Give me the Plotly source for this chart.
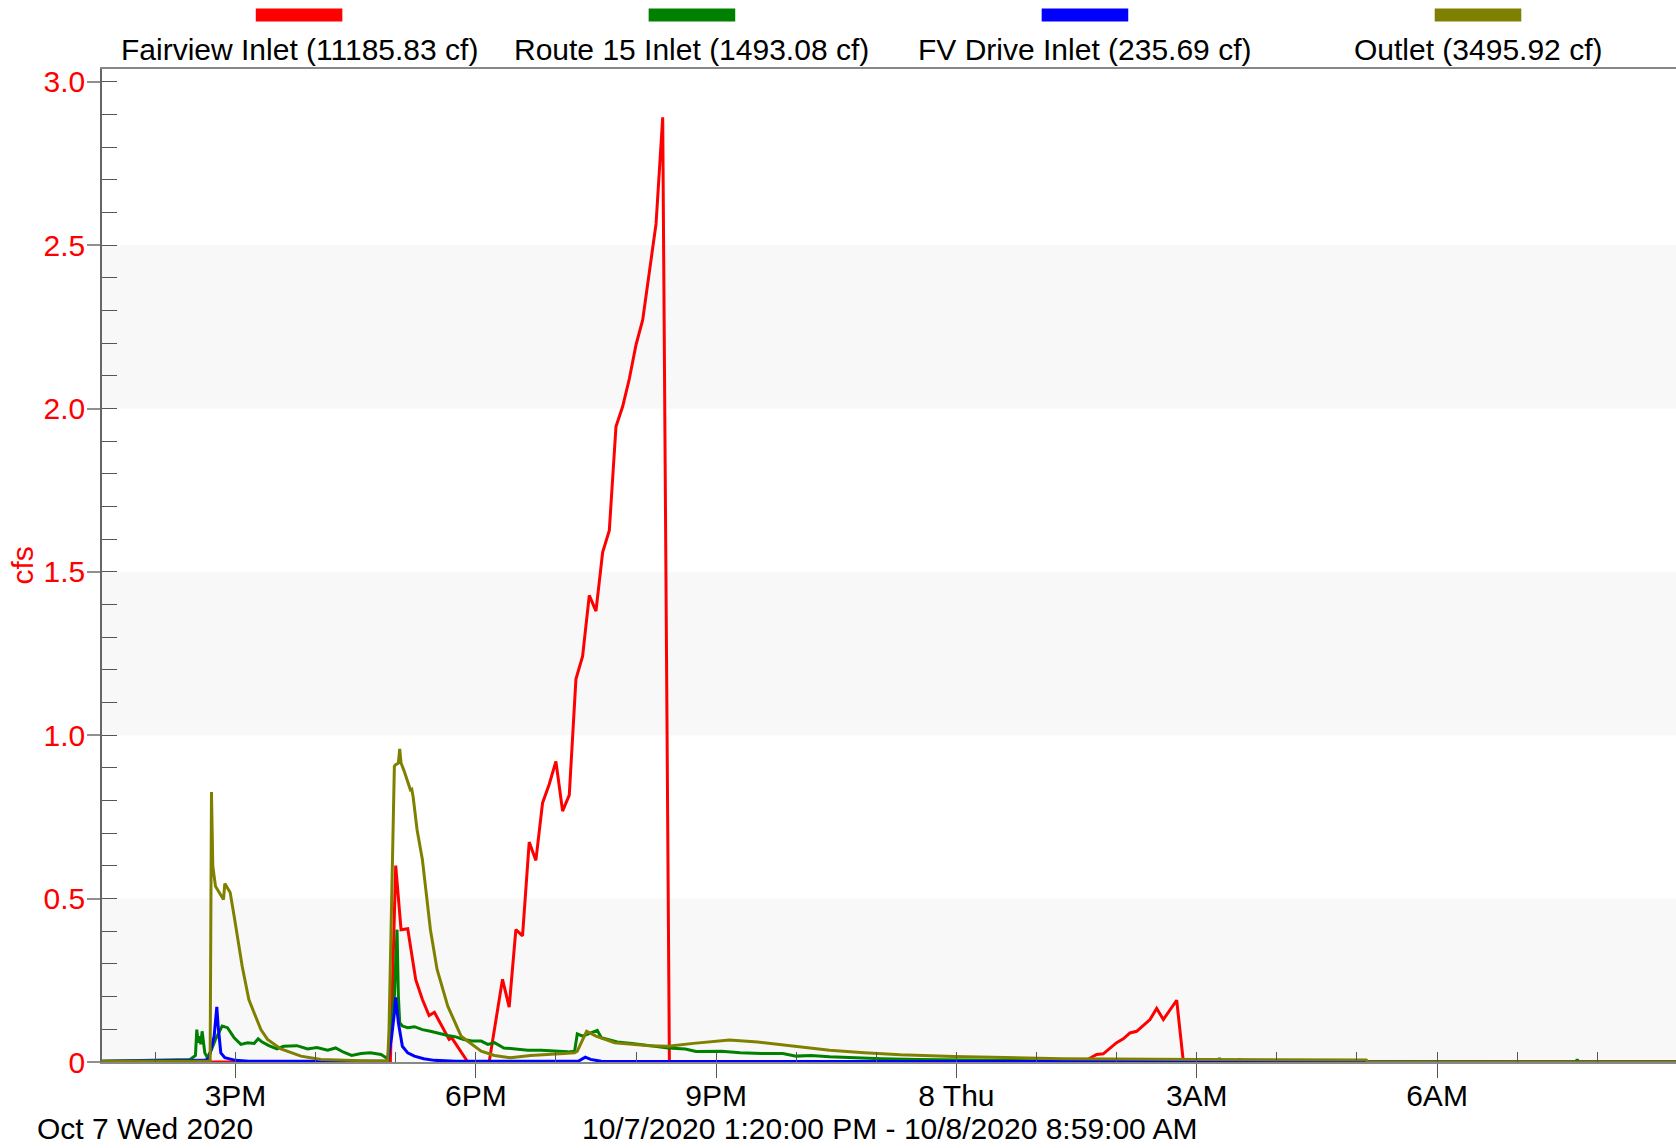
import pandas as pd
import plotly.graph_objects as go

# ---------------- data ----------------
fairview_times = [
    "2020-10-07 13:20", "2020-10-07 16:56", "2020-10-07 17:00", "2020-10-07 17:04",
    "2020-10-07 17:09", "2020-10-07 17:15", "2020-10-07 17:20", "2020-10-07 17:25",
    "2020-10-07 17:29", "2020-10-07 17:40", "2020-10-07 17:42", "2020-10-07 17:54",
    "2020-10-07 18:10", "2020-10-07 18:20", "2020-10-07 18:25", "2020-10-07 18:30",
    "2020-10-07 18:35", "2020-10-07 18:40", "2020-10-07 18:45", "2020-10-07 18:50",
    "2020-10-07 18:55", "2020-10-07 19:00", "2020-10-07 19:05", "2020-10-07 19:10",
    "2020-10-07 19:15", "2020-10-07 19:20", "2020-10-07 19:25", "2020-10-07 19:30",
    "2020-10-07 19:35", "2020-10-07 19:40", "2020-10-07 19:45", "2020-10-07 19:50",
    "2020-10-07 19:55", "2020-10-07 20:00", "2020-10-07 20:05", "2020-10-07 20:10",
    "2020-10-07 20:15", "2020-10-07 20:20", "2020-10-07 20:25", "2020-10-08 01:35",
    "2020-10-08 01:45", "2020-10-08 01:50", "2020-10-08 02:00", "2020-10-08 02:05",
    "2020-10-08 02:10", "2020-10-08 02:15", "2020-10-08 02:25", "2020-10-08 02:30",
    "2020-10-08 02:35", "2020-10-08 02:45", "2020-10-08 02:50", "2020-10-08 08:59",
]
fairview_cfs = [
    0, 0, 0.601, 0.405,
    0.408, 0.252, 0.191, 0.142,
    0.152, 0.069, 0.074, 0,
    0, 0.253, 0.168, 0.405,
    0.386, 0.673, 0.617, 0.793,
    0.850, 0.920, 0.768, 0.817,
    1.172, 1.242, 1.428, 1.380,
    1.560, 1.627, 1.945, 2.006,
    2.091, 2.195, 2.271, 2.413,
    2.565, 2.891, 0, 0,
    0.023, 0.025, 0.059, 0.071,
    0.089, 0.094, 0.130, 0.164,
    0.130, 0.189, 0, 0,
]

route15_times = [
    "2020-10-07 13:20", "2020-10-07 14:26", "2020-10-07 14:30", "2020-10-07 14:31",
    "2020-10-07 14:32", "2020-10-07 14:33", "2020-10-07 14:34", "2020-10-07 14:35",
    "2020-10-07 14:37", "2020-10-07 14:39", "2020-10-07 14:42", "2020-10-07 14:45",
    "2020-10-07 14:50", "2020-10-07 14:54", "2020-10-07 14:59", "2020-10-07 15:04",
    "2020-10-07 15:09", "2020-10-07 15:14", "2020-10-07 15:17", "2020-10-07 15:20",
    "2020-10-07 15:25", "2020-10-07 15:31", "2020-10-07 15:36", "2020-10-07 15:46",
    "2020-10-07 15:54", "2020-10-07 16:01", "2020-10-07 16:09", "2020-10-07 16:15",
    "2020-10-07 16:21", "2020-10-07 16:27", "2020-10-07 16:34", "2020-10-07 16:41",
    "2020-10-07 16:49", "2020-10-07 16:52", "2020-10-07 16:54", "2020-10-07 16:59",
    "2020-10-07 17:00", "2020-10-07 17:01", "2020-10-07 17:02", "2020-10-07 17:03",
    "2020-10-07 17:05", "2020-10-07 17:09", "2020-10-07 17:14", "2020-10-07 17:20",
    "2020-10-07 17:26", "2020-10-07 17:32", "2020-10-07 17:39", "2020-10-07 17:45",
    "2020-10-07 17:51", "2020-10-07 17:57", "2020-10-07 18:04", "2020-10-07 18:09",
    "2020-10-07 18:14", "2020-10-07 18:21", "2020-10-07 18:29", "2020-10-07 18:39",
    "2020-10-07 18:49", "2020-10-07 18:59", "2020-10-07 19:09", "2020-10-07 19:14",
    "2020-10-07 19:16", "2020-10-07 19:20", "2020-10-07 19:25", "2020-10-07 19:31",
    "2020-10-07 19:34", "2020-10-07 19:41", "2020-10-07 19:46", "2020-10-07 19:57",
    "2020-10-07 20:10", "2020-10-07 20:24", "2020-10-07 20:37", "2020-10-07 20:45",
    "2020-10-07 21:04", "2020-10-07 21:18", "2020-10-07 21:34", "2020-10-07 21:50",
    "2020-10-07 22:00", "2020-10-07 22:11", "2020-10-07 22:25", "2020-10-07 22:43",
    "2020-10-07 23:04", "2020-10-07 23:31", "2020-10-08 00:25", "2020-10-08 01:56",
    "2020-10-08 03:16", "2020-10-08 03:17", "2020-10-08 03:18", "2020-10-08 03:31",
    "2020-10-08 03:32", "2020-10-08 03:33", "2020-10-08 07:44", "2020-10-08 07:45",
    "2020-10-08 07:46", "2020-10-08 08:59",
]
route15_cfs = [
    0.002, 0.008, 0.020, 0.099,
    0.059, 0.079, 0.054, 0.094,
    0.028, 0.013, 0.038, 0.069,
    0.110, 0.105, 0.074, 0.054,
    0.059, 0.057, 0.071, 0.061,
    0.050, 0.040, 0.048, 0.050,
    0.040, 0.044, 0.036, 0.043,
    0.030, 0.020, 0.026, 0.028,
    0.023, 0.015, 0.010, 0.201,
    0.303, 0.405, 0.201, 0.120,
    0.110, 0.105, 0.108, 0.099,
    0.094, 0.087, 0.081, 0.077,
    0.069, 0.064, 0.064, 0.054,
    0.059, 0.043, 0.040, 0.036,
    0.036, 0.033, 0.031, 0.033,
    0.086, 0.079, 0.087, 0.097,
    0.074, 0.067, 0.061, 0.057,
    0.050, 0.043, 0.040, 0.032,
    0.033, 0.028, 0.026, 0.026,
    0.018, 0.020, 0.016, 0.013,
    0.010, 0.008, 0.005, 0.002,
    0, 0.012, 0, 0,
    0.010, 0, 0, 0.008,
    0, 0,
]

fvdrive_times = [
    "2020-10-07 13:20", "2020-10-07 14:37", "2020-10-07 14:40", "2020-10-07 14:44",
    "2020-10-07 14:46", "2020-10-07 14:47", "2020-10-07 14:49", "2020-10-07 14:52",
    "2020-10-07 15:00", "2020-10-07 15:10", "2020-10-07 16:54", "2020-10-07 16:57",
    "2020-10-07 16:59", "2020-10-07 17:00", "2020-10-07 17:02", "2020-10-07 17:05",
    "2020-10-07 17:09", "2020-10-07 17:14", "2020-10-07 17:21", "2020-10-07 17:29",
    "2020-10-07 17:45", "2020-10-07 19:17", "2020-10-07 19:22", "2020-10-07 19:26",
    "2020-10-07 19:34", "2020-10-08 02:30", "2020-10-08 02:40", "2020-10-08 08:59",
]
fvdrive_cfs = [
    0.002, 0.005, 0.010, 0.079,
    0.169, 0.110, 0.028, 0.013,
    0.005, 0.002, 0.002, 0.079,
    0.150, 0.198, 0.120, 0.048,
    0.028, 0.018, 0.010, 0.005,
    0.002, 0.003, 0.015, 0.008,
    0.002, 0.002, 0, 0,
]

outlet_times = [
    "2020-10-07 13:20", "2020-10-07 14:41", "2020-10-07 14:42", "2020-10-07 14:43",
    "2020-10-07 14:45", "2020-10-07 14:51", "2020-10-07 14:52", "2020-10-07 14:56",
    "2020-10-07 14:59", "2020-10-07 15:05", "2020-10-07 15:10", "2020-10-07 15:19",
    "2020-10-07 15:24", "2020-10-07 15:34", "2020-10-07 15:49", "2020-10-07 16:04",
    "2020-10-07 16:34", "2020-10-07 16:54", "2020-10-07 16:55", "2020-10-07 16:57",
    "2020-10-07 16:59", "2020-10-07 17:00", "2020-10-07 17:02", "2020-10-07 17:03",
    "2020-10-07 17:04", "2020-10-07 17:06", "2020-10-07 17:11", "2020-10-07 17:12",
    "2020-10-07 17:13", "2020-10-07 17:16", "2020-10-07 17:20", "2020-10-07 17:26",
    "2020-10-07 17:31", "2020-10-07 17:39", "2020-10-07 17:49", "2020-10-07 18:04",
    "2020-10-07 18:14", "2020-10-07 18:26", "2020-10-07 18:41", "2020-10-07 19:06",
    "2020-10-07 19:14", "2020-10-07 19:16", "2020-10-07 19:23", "2020-10-07 19:30",
    "2020-10-07 19:44", "2020-10-07 20:10", "2020-10-07 20:24", "2020-10-07 20:43",
    "2020-10-07 21:10", "2020-10-07 21:31", "2020-10-07 21:58", "2020-10-07 22:25",
    "2020-10-07 22:51", "2020-10-07 23:18", "2020-10-07 23:58", "2020-10-08 00:38",
    "2020-10-08 01:19", "2020-10-08 03:04", "2020-10-08 05:07", "2020-10-08 05:08",
    "2020-10-08 08:59",
]
outlet_cfs = [
    0.002, 0.003, 0.826, 0.599,
    0.538, 0.497, 0.546, 0.519,
    0.446, 0.293, 0.191, 0.099,
    0.069, 0.040, 0.018, 0.008,
    0.004, 0.003, 0.100, 0.550,
    0.905, 0.910, 0.915, 0.958,
    0.915, 0.894, 0.833, 0.835,
    0.813, 0.711, 0.619, 0.405,
    0.283, 0.171, 0.079, 0.033,
    0.020, 0.013, 0.020, 0.026,
    0.028, 0.033, 0.094, 0.079,
    0.059, 0.050, 0.048, 0.057,
    0.067, 0.061, 0.048, 0.036,
    0.028, 0.022, 0.017, 0.013,
    0.010, 0.008, 0.006, 0,
    0,
]

series_names = ["Fairview Inlet", "Route 15 Inlet", "FV Drive Inlet", "Outlet"]
series_volumes = ["11185.83 cf", "1493.08 cf", "235.69 cf", "3495.92 cf"]
series_colors = ["#ff0000", "#008000", "#0000ff", "#808000"]

x_tick_vals = ["2020-10-07 15:00", "2020-10-07 18:00", "2020-10-07 21:00",
               "2020-10-08 00:00", "2020-10-08 03:00", "2020-10-08 06:00"]
x_tick_text = ["3PM", "6PM", "9PM", "8 Thu", "3AM", "6AM"]
y_tick_vals = [0, 0.5, 1.0, 1.5, 2.0, 2.5, 3.0]
y_tick_text = ["0", "0.5", "1.0", "1.5", "2.0", "2.5", "3.0"]

x_start = "2020-10-07 13:20"
x_end = "2020-10-08 08:59"
date_label = "Oct 7 Wed 2020"
range_label = "10/7/2020 1:20:00 PM - 10/8/2020 8:59:00 AM"
y_title = "cfs"

# ---------------- figure ----------------
FONT = "Arial, Liberation Sans, sans-serif"
FS = 30

fig = go.Figure()
all_series = [
    (fairview_times, fairview_cfs),
    (route15_times, route15_cfs),
    (fvdrive_times, fvdrive_cfs),
    (outlet_times, outlet_cfs),
]
for (t, v), name, col in zip(all_series, series_names, series_colors):
    fig.add_trace(go.Scatter(
        x=pd.to_datetime(t), y=v, mode="lines", name=name,
        line=dict(color=col, width=3), showlegend=False, hoverinfo="x+y",
    ))

# dummy trace for the secondary (inside tick) y axis
fig.add_trace(go.Scatter(x=[], y=[], yaxis="y2", showlegend=False, hoverinfo="skip"))

# background bands
for lo in [0, 1.0, 2.0]:
    fig.add_shape(type="rect", xref="paper", yref="y", x0=0, x1=1, y0=lo, y1=lo + 0.5,
                  fillcolor="#f8f8f8", line=dict(width=0), layer="below")

# custom legend
legend_x = [0.1252, 0.3748, 0.6245, 0.8742]
for xc, name, vol, col in zip(legend_x, series_names, series_volumes, series_colors):
    fig.add_shape(type="rect", xref="paper", yref="paper",
                  x0=xc - 0.0275, x1=xc + 0.0275, y0=1.0479, y1=1.0609,
                  fillcolor=col, line=dict(width=0))
    fig.add_annotation(xref="paper", yref="paper", x=xc, y=1.0201,
                       text=f"{name} ({vol})", showarrow=False,
                       xanchor="center", yanchor="middle",
                       font=dict(family=FONT, size=FS, color="black"))

fig.add_annotation(xref="paper", yref="paper", x=-0.0425, y=-0.067, text=date_label,
                   showarrow=False, xanchor="left", yanchor="middle",
                   font=dict(family=FONT, size=FS, color="black"))
fig.add_annotation(xref="paper", yref="paper", x=0.5, y=-0.067, text=range_label,
                   showarrow=False, xanchor="center", yanchor="middle",
                   font=dict(family=FONT, size=FS, color="black"))
fig.add_annotation(xref="paper", yref="paper", x=-0.0502, y=0.5, text=y_title,
                   showarrow=False, textangle=-90, xanchor="center", yanchor="middle",
                   font=dict(family=FONT, size=FS, color="#ff0000"))

Y_RANGE = [0, 3.039]
fig.update_layout(
    width=1676, height=1148,
    margin=dict(l=102, r=0, t=69, b=86),
    paper_bgcolor="white", plot_bgcolor="white",
    font=dict(family=FONT, size=FS),
    xaxis=dict(
        type="date", range=[x_start, x_end],
        tickmode="array", tickvals=x_tick_vals, ticktext=x_tick_text,
        ticks="outside", ticklen=14, tickwidth=1.2, tickcolor="#555555",
        tickfont=dict(family=FONT, size=FS, color="black"),
        ticklabelstandoff=-8,
        showgrid=False, zeroline=False,
        showline=True, linecolor="#888888", linewidth=1.5, mirror=True,
        minor=dict(ticks="inside", tickmode="linear", tick0="2020-10-07 00:00",
                   dtick=3600000, ticklen=10, tickcolor="#555555", tickwidth=1.2),
    ),
    yaxis=dict(
        range=Y_RANGE, tickmode="array", tickvals=y_tick_vals, ticktext=y_tick_text,
        ticks="outside", ticklen=13, tickwidth=1.5, tickcolor="#909090",
        tickfont=dict(family=FONT, size=FS, color="#ff0000"),
        ticklabelstandoff=-4,
        showgrid=False, zeroline=False,
        showline=True, linecolor="#666666", linewidth=1.5, mirror=False,
    ),
    yaxis2=dict(
        range=Y_RANGE, overlaying="y", side="left",
        tickmode="linear", tick0=0, dtick=0.1,
        ticks="inside", ticklen=15, tickwidth=1.2, tickcolor="#555555",
        showticklabels=False, showgrid=False, zeroline=False, showline=False,
    ),
)

fig.write_html("out.html", config={"displayModeBar": False},
               post_script="document.body.style.margin='0';document.body.style.overflow='hidden';")
